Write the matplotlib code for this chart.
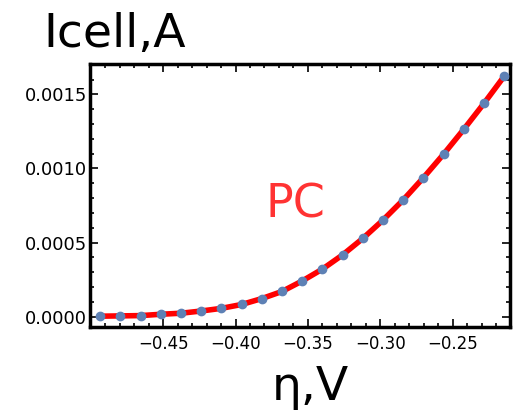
import matplotlib
matplotlib.use("Agg")
import matplotlib.pyplot as plt
from matplotlib.ticker import MultipleLocator

# data
eta = [-0.4934 + 0.01395 * i for i in range(21)]
icell = [0.000003, 0.000005, 0.000007, 0.000016, 0.000023, 0.000038, 0.000056,
         0.000082, 0.000122, 0.000170, 0.000241, 0.000321, 0.000417, 0.000528,
         0.000652, 0.000788, 0.000938, 0.001097, 0.001265, 0.001440, 0.001623]
x_ticks = [-0.45, -0.40, -0.35, -0.30, -0.25]
y_ticks = [0.0, 0.0005, 0.0010, 0.0015]

fig = plt.figure(figsize=(5.13, 4.12), dpi=100)
ax = fig.add_axes([0.1754, 0.2063, 0.8186, 0.6384])

ax.plot(eta, icell, color="#ff0000", lw=4, zorder=2, solid_capstyle="butt")
ax.plot(eta, icell, "o", color="#5e81b5", ms=6, zorder=3)

ax.set_xlim(-0.5005, -0.2105)
ax.set_ylim(-0.00007, 0.001705)
ax.set_xticks(x_ticks)
ax.set_xticklabels(["\u22120.45", "\u22120.40", "\u22120.35", "\u22120.30", "\u22120.25"])
ax.set_yticks(y_ticks)
ax.set_yticklabels(["0.0000", "0.0005", "0.0010", "0.0015"])
ax.xaxis.set_minor_locator(MultipleLocator(0.01))
ax.yaxis.set_minor_locator(MultipleLocator(0.0001))

ax.tick_params(which="both", direction="in", top=True, right=True, width=1.2)
ax.tick_params(axis="x", labelsize=12, pad=6)
ax.tick_params(axis="y", labelsize=13, pad=2)
ax.tick_params(which="major", length=6)
ax.tick_params(which="minor", length=3)
for s in ax.spines.values():
    s.set_linewidth(2.5)

fig.text(0.085, 0.886, "Icell,A", fontsize=34, ha="left", va="baseline")
fig.text(0.605, 0.029, "\u03b7,V", fontsize=34, ha="center", va="baseline")
fig.text(0.5185, 0.4709, "PC", color="#ff3333", fontsize=33, ha="left", va="baseline")

fig.savefig("out.png", dpi=100)
